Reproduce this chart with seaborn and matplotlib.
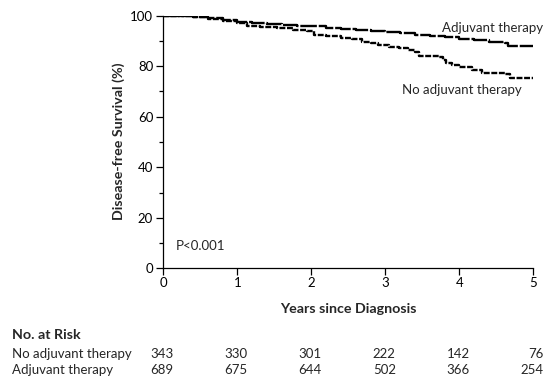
import matplotlib
matplotlib.use("Agg")
import matplotlib.pyplot as plt
import matplotlib.transforms as mtransforms
import seaborn as sns
import pandas as pd

# ---- data ----
adj_years = [0, 0.2, 0.4, 0.6, 0.8, 1.0, 1.2, 1.4, 1.6, 1.8, 2.0, 2.2, 2.4, 2.6,
             2.8, 3.0, 3.2, 3.4, 3.6, 3.8, 4.0, 4.2, 4.4, 4.62, 4.66, 5.0]
adj_surv = [100, 99.8, 99.5, 99.0, 98.4, 97.6, 97.0, 96.7, 96.4, 96.1, 95.8, 95.3,
            94.8, 94.4, 94.0, 93.5, 93.0, 92.5, 92.0, 91.4, 90.8, 90.2, 89.7, 89.2,
            88.0, 87.7]
noadj_years = [0, 0.2, 0.4, 0.6, 0.8, 1.0, 1.13, 1.3, 1.53, 1.75, 1.94, 2.03, 2.2,
               2.4, 2.55, 2.68, 2.8, 2.9, 3.05, 3.18, 3.3, 3.4, 3.45, 3.6, 3.72,
               3.78, 3.82, 3.9, 4.0, 4.17, 4.3, 4.45, 4.62, 4.69, 5.0]
noadj_surv = [100, 99.8, 99.4, 98.8, 98.0, 97.2, 96.0, 95.5, 95.0, 94.5, 94.1, 92.4,
              91.8, 91.2, 90.8, 89.5, 89.0, 88.4, 87.8, 87.1, 86.5, 85.8, 84.2, 84.0,
              83.8, 82.5, 81.2, 80.3, 79.6, 78.5, 77.5, 77.2, 77.0, 75.5, 75.5]

risk_years = [0, 1, 2, 3, 4, 5]
risk_groups = ["No adjuvant therapy", "Adjuvant therapy"]
risk_noadj = [343, 330, 301, 222, 142, 76]
risk_adj = [689, 675, 644, 502, 366, 254]

x_ticks = [0, 1, 2, 3, 4, 5]
y_ticks = [0, 20, 40, 60, 80, 100]

# ---- style ----
sns.set_theme(style="ticks")
FONT = ["Lato", "DejaVu Sans"]
plt.rcParams["font.family"] = FONT
FS = 9.5
FSB = 10.3

fig = plt.figure(figsize=(5.47, 3.81), dpi=100)
W, H = 547, 381
ax_l, ax_r, ax_t, ax_b = 163.3, 533.3, 15.7, 268.3
ax = fig.add_axes([ax_l / W, 1 - ax_b / H, (ax_r - ax_l) / W, (ax_b - ax_t) / H])

df_adj = pd.DataFrame({"Years": adj_years, "Survival": adj_surv})
df_noadj = pd.DataFrame({"Years": noadj_years, "Survival": noadj_surv})

sns.lineplot(data=df_adj, x="Years", y="Survival", ax=ax, estimator=None, sort=False,
             drawstyle="steps-post", color="black", linewidth=1.7,
             linestyle=(0, (7, 0.8)))
sns.lineplot(data=df_noadj, x="Years", y="Survival", ax=ax, estimator=None, sort=False,
             drawstyle="steps-post", color="black", linewidth=1.7,
             linestyle=(0, (2.5, 0.7)))

ax.set_xlim(0, 5)
ax.set_ylim(0, 100)
ax.set_xticks(x_ticks)
ax.set_yticks(y_ticks)
ax.set_yticks([10, 30, 50, 70, 90], minor=True)
ax.set_xlabel("")
ax.set_ylabel("")
for s in ["top", "right"]:
    ax.spines[s].set_visible(False)
for s in ["left", "bottom"]:
    ax.spines[s].set_linewidth(0.9)
    ax.spines[s].set_color("black")
ax.tick_params(axis="both", which="major", length=4.8, width=0.9, color="black",
               labelsize=FS, pad=1.5, labelcolor="black")
ax.tick_params(axis="y", which="minor", length=3, width=0.9, color="black")
ax.tick_params(axis="y", which="major", pad=2.5)

# annotations
ax.text(3.76, 93.4, "Adjuvant therapy", fontsize=FS, ha="left", va="baseline")
ax.text(3.22, 68.9, "No adjuvant therapy", fontsize=FS, ha="left", va="baseline")
ax.text(0.17, 7.25, "P<0.001", fontsize=FS, ha="left", va="baseline")

# axis labels
fig.text(348.3 / W, 1 - 312.7 / H, "Years since Diagnosis", fontsize=FSB,
         fontweight="bold", ha="center", va="baseline")
fig.text(118.5 / W, 1 - 141 / H, "Disease-free Survival (%)", fontsize=FSB,
         fontweight="bold", ha="center", va="center", rotation=90)

# risk table
fig.text(12 / W, 1 - 339.3 / H, "No. at Risk", fontsize=FSB, fontweight="bold",
         ha="left", va="baseline")
row_base = [357.5, 374.5]
trans = mtransforms.blended_transform_factory(ax.transData, fig.transFigure) + \
    mtransforms.ScaledTranslation(10.5 / 100, 0, fig.dpi_scale_trans)
for name, vals, yb in zip(risk_groups, [risk_noadj, risk_adj], row_base):
    fig.text(12 / W, 1 - yb / H, name, fontsize=FS, ha="left", va="baseline")
    for xv, v in zip(risk_years, vals):
        ax.text(xv, 1 - yb / H, str(v), fontsize=FS, ha="right", va="baseline",
                transform=trans, clip_on=False)

fig.savefig("out.png", dpi=100)
